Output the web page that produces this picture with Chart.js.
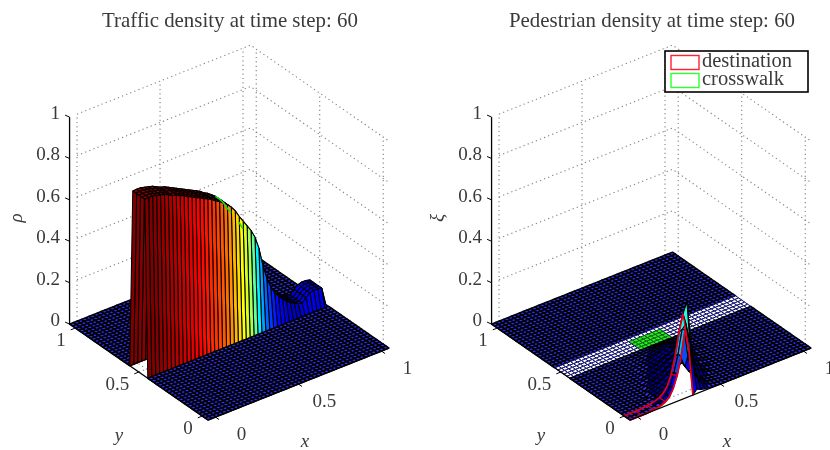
<!DOCTYPE html>
<html>
<head>
<meta charset="utf-8">
<title>Traffic and pedestrian density</title>
<script src="https://cdn.jsdelivr.net/npm/chart.js@4/dist/chart.umd.js"></script>
<style>
  html, body { margin: 0; padding: 0; background: #fff; overflow: hidden; }
  #left, #right { position: absolute; top: 0; height: 450px; filter: blur(0.3px); }
  #left { left: 0; width: 420px; }
  #right { left: 420px; width: 410px; }
</style>
</head>
<body>
<div id="left"><canvas id="trafficChart"></canvas></div>
<div id="right"><canvas id="pedestrianChart"></canvas></div>
<script>
// traffic density on the road, one value per x node
var trafficProfile = [
  0.855, 0.855, 0.855, 0.85, 0.845, 0.84, 0.83, 0.82, 0.815, 0.805,
  0.795, 0.785, 0.775, 0.765, 0.755, 0.745, 0.735, 0.725, 0.71, 0.70,
  0.685, 0.67, 0.65, 0.625, 0.59, 0.56, 0.53, 0.50, 0.46, 0.40,
  0.31, 0.24, 0.19, 0.155, 0.13, 0.11, 0.09, 0.075, 0.065, 0.055,
  0.05, 0.07, 0.085, 0.09, 0.09, 0.085, 0
];
// across the road, y nodes 20 to 26
var roadCross = [0, 1, 1, 1, 1, 1, 0];
// x nodes of the crosswalk edge seen on top of the traffic
var crosswalkEdge = [21, 22, 23, 24, 25];
var crosswalkSpot = [27, 28];

// pedestrian density near the destination, rows are y nodes, columns x nodes
var pedestrianRows = [
  [0, 0, 0, 0, 0, 0.002, 0.004, 0.007, 0.011, 0.02, 0.035, 0.07, 0.125, 0.208, 0.33, 0.22, 0, 0.02, 0.012, 0.007, 0.004, 0.002, 0.001],
  [0, 0, 0, 0, 0.001, 0.003, 0.005, 0.008, 0.013, 0.022, 0.04, 0.07, 0.13, 0.21, 0.32, 0.34, 0.24, 0.1, 0.05, 0.025, 0.012, 0.006, 0.003, 0.001],
  [0, 0, 0, 0, 0.001, 0.003, 0.005, 0.008, 0.013, 0.02, 0.035, 0.06, 0.11, 0.19, 0.3, 0.38, 0.43, 0.22, 0.09, 0.04, 0.02, 0.01, 0.005, 0.002, 0.001],
  [0, 0, 0, 0.001, 0.001, 0.002, 0.004, 0.006, 0.009, 0.013, 0.02, 0.03, 0.05, 0.12, 0.21, 0.3, 0.31, 0.15, 0.075, 0.04, 0.022, 0.012, 0.006, 0.003, 0.001],
  [0, 0, 0, 0, 0.001, 0.002, 0.003, 0.005, 0.007, 0.01, 0.015, 0.022, 0.032, 0.05, 0.09, 0.14, 0.14, 0.09, 0.06, 0.035, 0.02, 0.012, 0.007, 0.003, 0.001],
  [0, 0, 0, 0, 0, 0, 0, 0, 0, 0.01, 0.015, 0.02, 0.03, 0.04, 0.055, 0.07, 0.085, 0.1, 0.085, 0.07, 0.05, 0.035, 0.02, 0.01, 0.005],
  [0, 0, 0, 0, 0, 0, 0, 0, 0, 0.009, 0.014, 0.018, 0.027, 0.036, 0.05, 0.063, 0.077, 0.09, 0.077, 0.063, 0.045, 0.032, 0.018, 0.009, 0.005],
  [0, 0, 0, 0, 0, 0, 0, 0, 0, 0, 0.009, 0.013, 0.017, 0.026, 0.034, 0.047, 0.06, 0.072, 0.085, 0.072, 0.06, 0.043, 0.03, 0.017, 0.009, 0.004],
  [0, 0, 0, 0, 0, 0, 0, 0, 0, 0, 0.008, 0.012, 0.016, 0.024, 0.032, 0.044, 0.056, 0.068, 0.08, 0.068, 0.056, 0.04, 0.028, 0.016, 0.008, 0.004],
  [0, 0, 0, 0, 0, 0, 0, 0, 0, 0, 0, 0.008, 0.011, 0.015, 0.023, 0.03, 0.041, 0.053, 0.064, 0.075, 0.064, 0.053, 0.038, 0.026, 0.015, 0.008, 0.004],
  [0, 0, 0, 0, 0, 0, 0, 0, 0, 0, 0, 0.007, 0.011, 0.014, 0.021, 0.028, 0.039, 0.049, 0.06, 0.07, 0.06, 0.049, 0.035, 0.025, 0.014, 0.007, 0.004],
  [0, 0, 0, 0, 0, 0, 0, 0, 0, 0, 0, 0, 0.007, 0.01, 0.013, 0.02, 0.026, 0.036, 0.046, 0.055, 0.065, 0.055, 0.046, 0.033, 0.023, 0.013, 0.007, 0.003],
  [0, 0, 0, 0, 0, 0, 0, 0, 0, 0, 0, 0, 0.006, 0.009, 0.012, 0.018, 0.024, 0.033, 0.042, 0.051, 0.06, 0.051, 0.042, 0.03, 0.021, 0.012, 0.006, 0.003],
  [0, 0, 0, 0, 0, 0, 0, 0, 0, 0, 0, 0, 0, 0.006, 0.008, 0.011, 0.017, 0.022, 0.03, 0.039, 0.047, 0.055, 0.047, 0.039, 0.028, 0.019, 0.011, 0.006, 0.003],
  [0, 0, 0, 0, 0, 0, 0, 0, 0, 0, 0, 0, 0, 0.005, 0.008, 0.01, 0.015, 0.02, 0.028, 0.035, 0.043, 0.05, 0.043, 0.035, 0.025, 0.018, 0.01, 0.005, 0.003],
  [0, 0, 0, 0, 0, 0, 0, 0, 0, 0, 0, 0, 0, 0.005, 0.007, 0.009, 0.014, 0.018, 0.025, 0.032, 0.038, 0.045, 0.038, 0.032, 0.023, 0.016, 0.009, 0.005, 0.002],
  [0, 0, 0, 0, 0, 0, 0, 0, 0, 0, 0, 0, 0, 0, 0.004, 0.006, 0.008, 0.012, 0.016, 0.022, 0.028, 0.034, 0.04, 0.034, 0.028, 0.02, 0.014, 0.008, 0.004, 0.002],
  [0, 0, 0, 0, 0, 0, 0, 0, 0, 0, 0, 0, 0, 0, 0.003, 0.005, 0.006, 0.009, 0.012, 0.017, 0.021, 0.026, 0.03, 0.026, 0.021, 0.015, 0.011, 0.006, 0.003, 0.002],
  [0, 0, 0, 0, 0, 0, 0, 0, 0, 0, 0, 0, 0, 0, 0.002, 0.003, 0.004, 0.006, 0.008, 0.011, 0.014, 0.017, 0.02, 0.017, 0.014, 0.01, 0.007, 0.004, 0.002, 0.001],
  [0, 0, 0, 0, 0, 0, 0, 0, 0, 0, 0, 0, 0, 0, 0, 0.001, 0.002, 0.002, 0.003, 0.004, 0.006, 0.007, 0.009, 0.01, 0.009, 0.007, 0.005, 0.004, 0.002, 0.001, 0.001]
];

var axisTicks = [0, 0.5, 1];
var axisTickLabels = ["0", "0.5", "1"];
var heightTicks = [0, 0.2, 0.4, 0.6, 0.8, 1];
var heightTickLabels = ["0", "0.2", "0.4", "0.6", "0.8", "1"];
var legendLabels = ["destination", "crosswalk"];

var cells = 46;
var gridStart = -0.045;
var gridSpan = 1.09;
var step = gridSpan / cells;
var colorTop = 0.85;
var floorBlue = "#3030ff";

// view of the 3d box, in canvas pixels
function project(t, u, z, dx) {
  return {
    x: 208 + dx + t * 166 - u * 127,
    y: 420 - t * 66 - u * 88 - z * 207
  };
}

function jet(v) {
  v = Math.max(0, Math.min(1, v));
  var r = Math.min(1, Math.max(0, Math.min(4 * v - 1.5, 4.5 - 4 * v)));
  var g = Math.min(1, Math.max(0, Math.min(4 * v - 0.5, 3.5 - 4 * v)));
  var b = Math.min(1, Math.max(0, Math.min(4 * v + 0.5, 2.5 - 4 * v)));
  return "rgb(" + Math.round(r * 255) + "," + Math.round(g * 255) + "," + Math.round(b * 255) + ")";
}

function trafficHeight(i, j) {
  if (j < 20 || j > 26) return 0;
  return roadCross[j - 20] * trafficProfile[i];
}

function pedestrianHeight(i, j) {
  if (j >= pedestrianRows.length || i >= pedestrianRows[j].length) return 0;
  return pedestrianRows[j][i];
}

function trafficColor(i, j, z) {
  var top = Math.max(z[0], z[1], z[2], z[3]);
  if (top === 0) return floorBlue;
  // the bands on the wall sit about two nodes ahead of the outline
  return jet(trafficProfile[Math.min(i + 2, 45)] / colorTop);
}

function pedestrianColor(i, j, z) {
  if (i >= 18 && i < 26 && j >= 20 && j < 24) return "#22f022";
  if (j >= 20 && j < 25) return "#ffffff";
  var mean = (z[0] + z[1] + z[2] + z[3]) / 4;
  return mean < 0.01 ? floorBlue : jet(mean / colorTop);
}

function lineSet(points, color, width, dash) {
  return {
    data: points,
    showLine: true,
    fill: false,
    borderColor: color,
    borderWidth: width,
    borderDash: dash || [],
    pointRadius: 0,
    clip: false
  };
}

function addGrid(sets, dx) {
  var dots = [1.2, 3.2];
  var end = gridSpan;
  heightTicks.forEach(function (z) {
    sets.push(lineSet([project(-gridStart, end, z, dx), project(end, end, z, dx), project(end, 0, z, dx)], "#7f7f7f", 1.1, dots));
  });
  axisTicks.forEach(function (v) {
    var t = v - gridStart;
    sets.push(lineSet([project(t, end, 0, dx), project(t, end, 1, dx)], "#7f7f7f", 1.1, dots));
    sets.push(lineSet([project(end, t, 0, dx), project(end, t, 1, dx)], "#7f7f7f", 1.1, dots));
    sets.push(lineSet([project(t, 0, 0, dx), project(t, end, 0, dx)], "#7f7f7f", 1.1, dots));
    sets.push(lineSet([project(0, t, 0, dx), project(end, t, 0, dx)], "#7f7f7f", 1.1, dots));
  });
}

function addSurface(sets, heightAt, colorAt, dx, raisedWidth) {
  // far corner first so that nearer cells paint over
  for (var i = cells - 1; i >= 0; i--) {
    for (var j = cells - 1; j >= 0; j--) {
      var z = [heightAt(i, j), heightAt(i + 1, j), heightAt(i + 1, j + 1), heightAt(i, j + 1)];
      var t0 = i * step, t1 = (i + 1) * step, u0 = j * step, u1 = (j + 1) * step;
      var color = colorAt(i, j, z);
      var edge = "#000000", width = 1.5;
      if (color === "#ffffff") { edge = "#10106a"; width = 1.0; }
      else if (color === "#22f022") { edge = "#063a06"; width = 0.7; }
      else if (color !== floorBlue) { width = raisedWidth; }
      sets.push({
        data: [
          project(t0, u0, z[0], dx), project(t1, u0, z[1], dx),
          project(t1, u1, z[2], dx), project(t0, u1, z[3], dx), project(t0, u0, z[0], dx)
        ],
        showLine: true,
        fill: "shape",
        backgroundColor: color,
        borderColor: edge,
        borderWidth: width,
        borderJoinStyle: "round",
        pointRadius: 0,
        clip: false
      });
    }
  }
}

function addAxes(sets, dx) {
  var end = gridSpan;
  sets.push(lineSet([project(0, end, 0, dx), project(0, 0, 0, dx), project(end, 0, 0, dx)], "#000", 1.3));
  sets.push(lineSet([project(0, end, 0, dx), project(0, end, 1, dx)], "#000", 1.3));
  heightTicks.forEach(function (z) {
    var a = project(0, end, z, dx);
    sets.push(lineSet([a, { x: a.x - 4.5, y: a.y - 2 }], "#000", 1));
  });
  axisTicks.forEach(function (v) {
    var t = v - gridStart;
    var a = project(t, 0, 0, dx);
    sets.push(lineSet([a, { x: a.x + 3.5, y: a.y + 2.5 }], "#000", 1));
    var b = project(0, t, 0, dx);
    sets.push(lineSet([b, { x: b.x - 4.5, y: b.y + 1.8 }], "#000", 1));
  });
}

function addCrosswalkEdge(sets, nodes) {
  var u = 25 * step;
  sets.push(lineSet(nodes.map(function (i) {
    return project(i * step, u, trafficHeight(i, 25), 0);
  }), "#10e010", 1.6));
}

function addDestination(sets, dx) {
  var red = "#e0001e";
  var near = [], far = [];
  for (var i = 0; i <= 16; i++) {
    near.push(project(i * step, 0, pedestrianHeight(i, 0), dx));
    if (i <= 15) far.push(project(i * step, 2 * step, pedestrianHeight(i, 2), dx));
    if (i % 3 === 0 && i <= 15) {
      sets.push(lineSet([near[near.length - 1], far[far.length - 1]], red, 1.2));
    }
  }
  sets.push(lineSet(near, red, 1.8));
  sets.push(lineSet(far, red, 1.8));
}

function drawText(ctx, text, x, y, font, align) {
  ctx.font = font;
  ctx.textAlign = align || "center";
  ctx.textBaseline = "middle";
  ctx.fillStyle = "#3a3a3a";
  ctx.fillText(text, x, y);
}

function textPlugin(title, titleX, zName, zNameX, dx, withLegend) {
  return {
    id: "panelText",
    afterDraw: function (chart) {
      var ctx = chart.ctx;
      var sx = chart.scales.x, sy = chart.scales.y;
      function at(p) { return { x: sx.getPixelForValue(p.x), y: sy.getPixelForValue(p.y) }; }
      var tickFont = "19px 'Liberation Serif'";
      ctx.save();
      drawText(ctx, title, sx.getPixelForValue(titleX), 22, "20.9px 'Liberation Serif'");
      heightTicks.forEach(function (z, k) {
        var p = at(project(0, gridSpan, z, dx));
        drawText(ctx, heightTickLabels[k], p.x - 9.5, p.y - 3, tickFont, "right");
      });
      axisTicks.forEach(function (v, k) {
        var t = v - gridStart;
        var a = at(project(t, 0, 0, dx));
        drawText(ctx, axisTickLabels[k], a.x + 26, a.y + 17.5, tickFont);
        var b = at(project(0, t, 0, dx));
        drawText(ctx, axisTickLabels[k], b.x - 9.5, b.y + 12.5, tickFont, "right");
      });
      var italic = "italic 19px 'Liberation Serif'";
      drawText(ctx, "x", sx.getPixelForValue(305 + dx), 442, italic);
      drawText(ctx, "y", sx.getPixelForValue(119 + dx), 436, italic);
      ctx.save();
      ctx.translate(sx.getPixelForValue(zNameX), 218);
      ctx.rotate(-Math.PI / 2);
      drawText(ctx, zName, 0, 0, italic);
      ctx.restore();
      if (withLegend) {
        var left = sx.getPixelForValue(665);
        ctx.fillStyle = "#fff";
        ctx.fillRect(left, 51, 143, 41);
        ctx.strokeStyle = "#000";
        ctx.lineWidth = 1.6;
        ctx.strokeRect(left, 51, 143, 41);
        ctx.lineWidth = 1.4;
        ctx.strokeStyle = "#ff2030";
        ctx.strokeRect(left + 6, 55.5, 28, 14);
        ctx.strokeStyle = "#30ff30";
        ctx.strokeRect(left + 6, 73.5, 28, 14);
        drawText(ctx, legendLabels[0], left + 37, 62, "20.5px 'Liberation Serif'", "left");
        drawText(ctx, legendLabels[1], left + 37, 80, "20.5px 'Liberation Serif'", "left");
      }
      ctx.restore();
    }
  };
}

function makeChart(canvasId, sets, xMin, xMax, plugin) {
  return new Chart(document.getElementById(canvasId), {
    type: "scatter",
    data: { datasets: sets.reverse() },
    options: {
      responsive: true,
      maintainAspectRatio: false,
      animation: false,
      events: [],
      layout: { padding: 0 },
      plugins: { legend: { display: false }, tooltip: { enabled: false }, title: { display: false } },
      scales: {
        x: { type: "linear", display: false, min: xMin, max: xMax },
        y: { type: "linear", display: false, min: 0, max: 450, reverse: true }
      }
    },
    plugins: [plugin]
  });
}

var trafficSets = [];
addGrid(trafficSets, 0);
addSurface(trafficSets, trafficHeight, trafficColor, 0, 1.05);
addCrosswalkEdge(trafficSets, crosswalkEdge);
addCrosswalkEdge(trafficSets, crosswalkSpot);
addAxes(trafficSets, 0);
makeChart("trafficChart", trafficSets, 0, 420,
  textPlugin("Traffic density at time step: 60", 230, "\u03c1", 17, 0, false));

var shift = 422;
var pedestrianSets = [];
addGrid(pedestrianSets, shift);
addSurface(pedestrianSets, pedestrianHeight, pedestrianColor, shift, 1.1);
addDestination(pedestrianSets, shift);
addAxes(pedestrianSets, shift);
makeChart("pedestrianChart", pedestrianSets, 420, 830,
  textPlugin("Pedestrian density at time step: 60", 652, "\u03be", 438, shift, true));
</script>
</body>
</html>
